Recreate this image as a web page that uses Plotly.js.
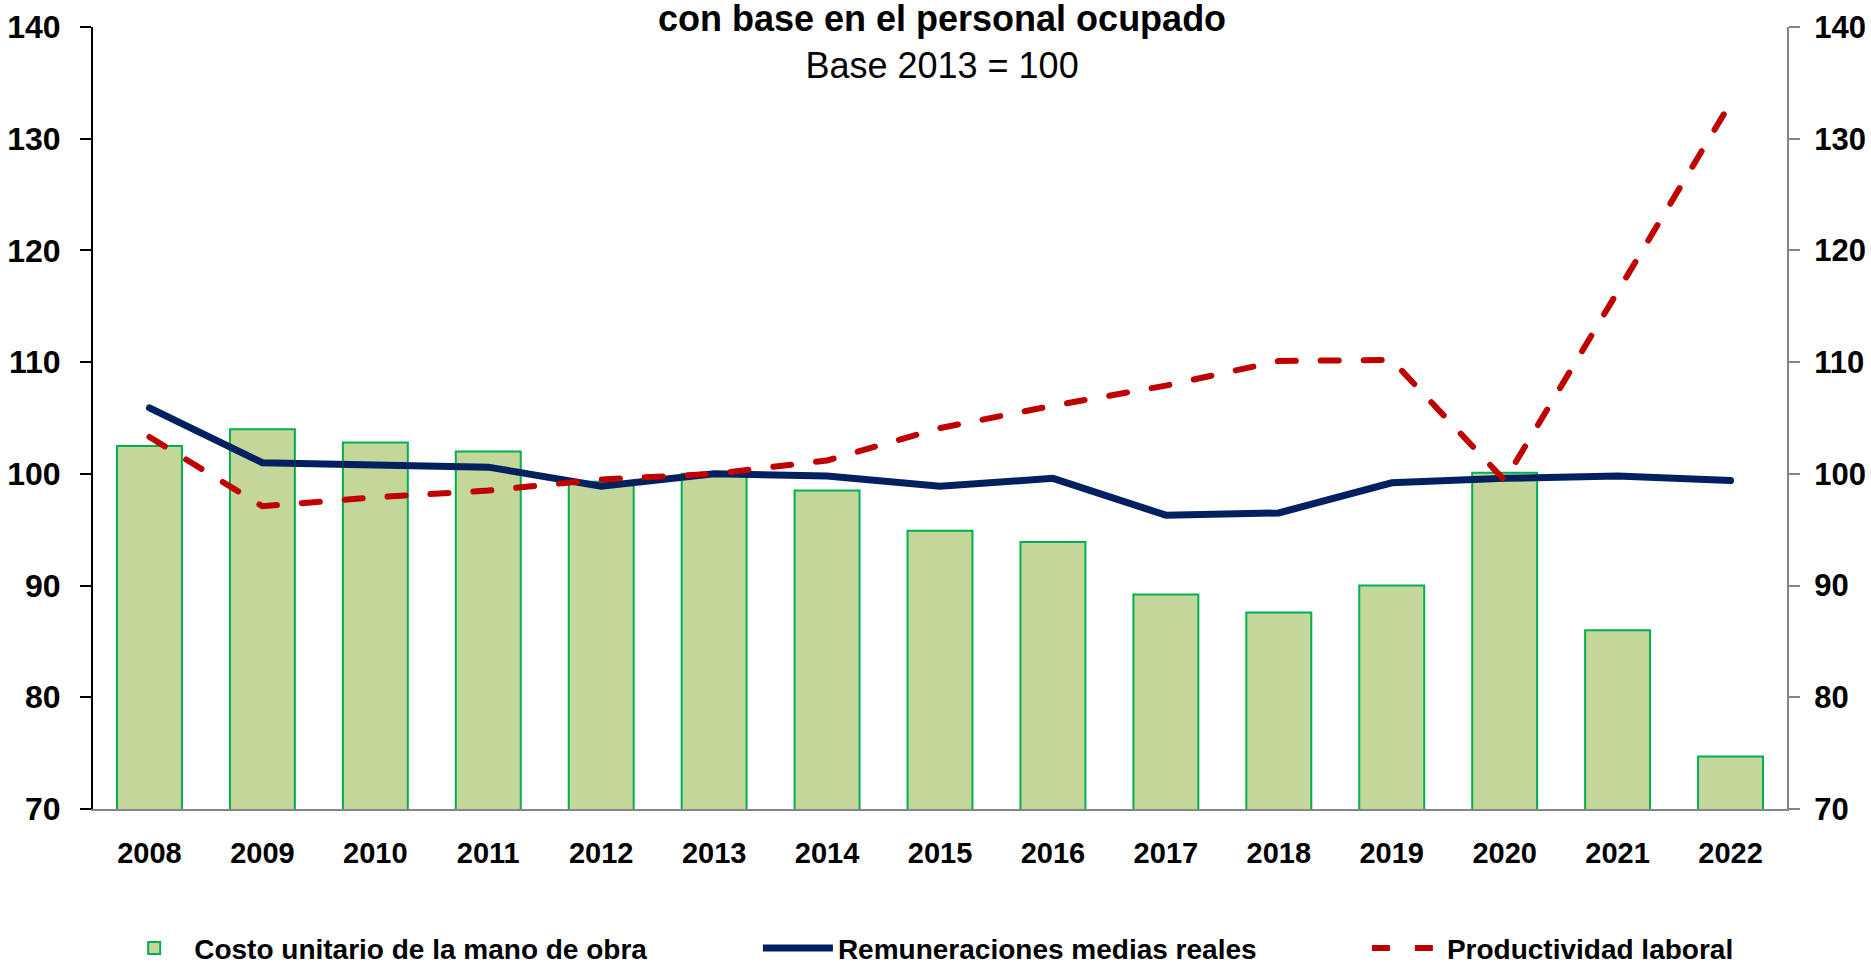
<!DOCTYPE html>
<html>
<head>
<meta charset="utf-8">
<script src="https://cdn.plot.ly/plotly-3.0.1.min.js"></script>
<style>
  body { margin: 0; background: #fff; }
  #grafico { width: 1871px; height: 964px; }
  .scatterlayer .js-line { stroke-linecap: round; }
</style>
</head>
<body>
<div id="grafico"></div>
<script>
// Años y series (Base 2013 = 100)
const anios = ['2008', '2009', '2010', '2011', '2012', '2013', '2014', '2015',
               '2016', '2017', '2018', '2019', '2020', '2021', '2022'];
const costoUnitario = [102.5, 104.0, 102.8, 102.0, 99.3, 100.0, 98.5, 94.9,
                       93.9, 89.2, 87.6, 90.0, 100.1, 86.0, 74.7];
const remuneraciones = [105.9, 101.0, 100.8, 100.6, 98.9, 100.0, 99.8, 98.9,
                        99.6, 96.3, 96.5, 99.2, 99.6, 99.8, 99.4];
const productividad = [103.3, 97.1, 97.9, 98.5, 99.5, 100.0, 101.2, 104.1,
                       106.1, 107.9, 110.1, 110.2, 99.4, 116.2, 133.2];
const ticksY = [70, 80, 90, 100, 110, 120, 130, 140];

const fuente = 'Liberation Sans, Arial, sans-serif';

const data = [
    {
        x: anios,
        y: costoUnitario,
        type: 'bar',
        name: 'Costo unitario de la mano de obra',
        marker: { color: '#C4D79B', line: { color: '#00B050', width: 2 } },
        legend: 'legend'
    },
    {
        x: anios,
        y: remuneraciones,
        type: 'scatter',
        mode: 'lines',
        name: 'Remuneraciones medias reales',
        yaxis: 'y2',
        line: { color: '#002060', width: 7 },
        legend: 'legend2'
    },
    {
        x: anios,
        y: productividad,
        type: 'scatter',
        mode: 'lines',
        name: 'Productividad laboral',
        yaxis: 'y2',
        line: { color: '#C00000', width: 6, dash: '18px,25px' },
        legend: 'legend3'
    }
];

const ejeY = {
    range: [70, 140],
    tickvals: ticksY,
    ticks: 'outside',
    ticklen: 11,
    tickwidth: 2,
    showgrid: false,
    zeroline: false,
    showline: true,
    linewidth: 2,
    fixedrange: true,
    ticklabelstandoff: 13,
    tickfont: { family: fuente, size: 32, color: '#000', weight: 'bold' }
};

const leyenda = {
    orientation: 'h',
    yanchor: 'middle',
    y: -0.178,
    xanchor: 'left',
    itemwidth: 70,
    bgcolor: 'rgba(0,0,0,0)',
    font: { family: fuente, size: 28, color: '#000', weight: 'bold' }
};

const layout = {
    width: 1871,
    height: 964,
    margin: { l: 93, r: 84, t: 27, b: 155, autoexpand: false },
    paper_bgcolor: '#fff',
    plot_bgcolor: '#fff',
    bargap: 0.425,
    title: {
        text: '<b>con base en el personal ocupado</b><br>Base 2013 = 100',
        font: { family: fuente, size: 36, color: '#000' },
        x: 0.5035,
        xanchor: 'center',
        y: 0.968,
        yanchor: 'top'
    },
    xaxis: {
        type: 'category',
        showline: true,
        linecolor: '#868686',
        linewidth: 2,
        ticks: '',
        showgrid: false,
        fixedrange: true,
        ticklabelstandoff: 17,
        tickfont: { family: fuente, size: 29, color: '#000', weight: 'bold' }
    },
    yaxis: Object.assign({}, ejeY, { linecolor: '#000', tickcolor: '#000' }),
    yaxis2: Object.assign({}, ejeY, {
        overlaying: 'y',
        side: 'right',
        linecolor: '#868686',
        tickcolor: '#868686',
        ticklabelstandoff: 8,
        tickfont: { family: fuente, size: 31, color: '#000', weight: 'bold' }
    }),
    showlegend: true,
    legend: Object.assign({}, leyenda, { x: 0.0125 }),
    legend2: Object.assign({}, leyenda, { x: 0.3925 }),
    legend3: Object.assign({}, leyenda, { x: 0.752 })
};

Plotly.newPlot('grafico', data, layout, { displayModeBar: false });
</script>
</body>
</html>
